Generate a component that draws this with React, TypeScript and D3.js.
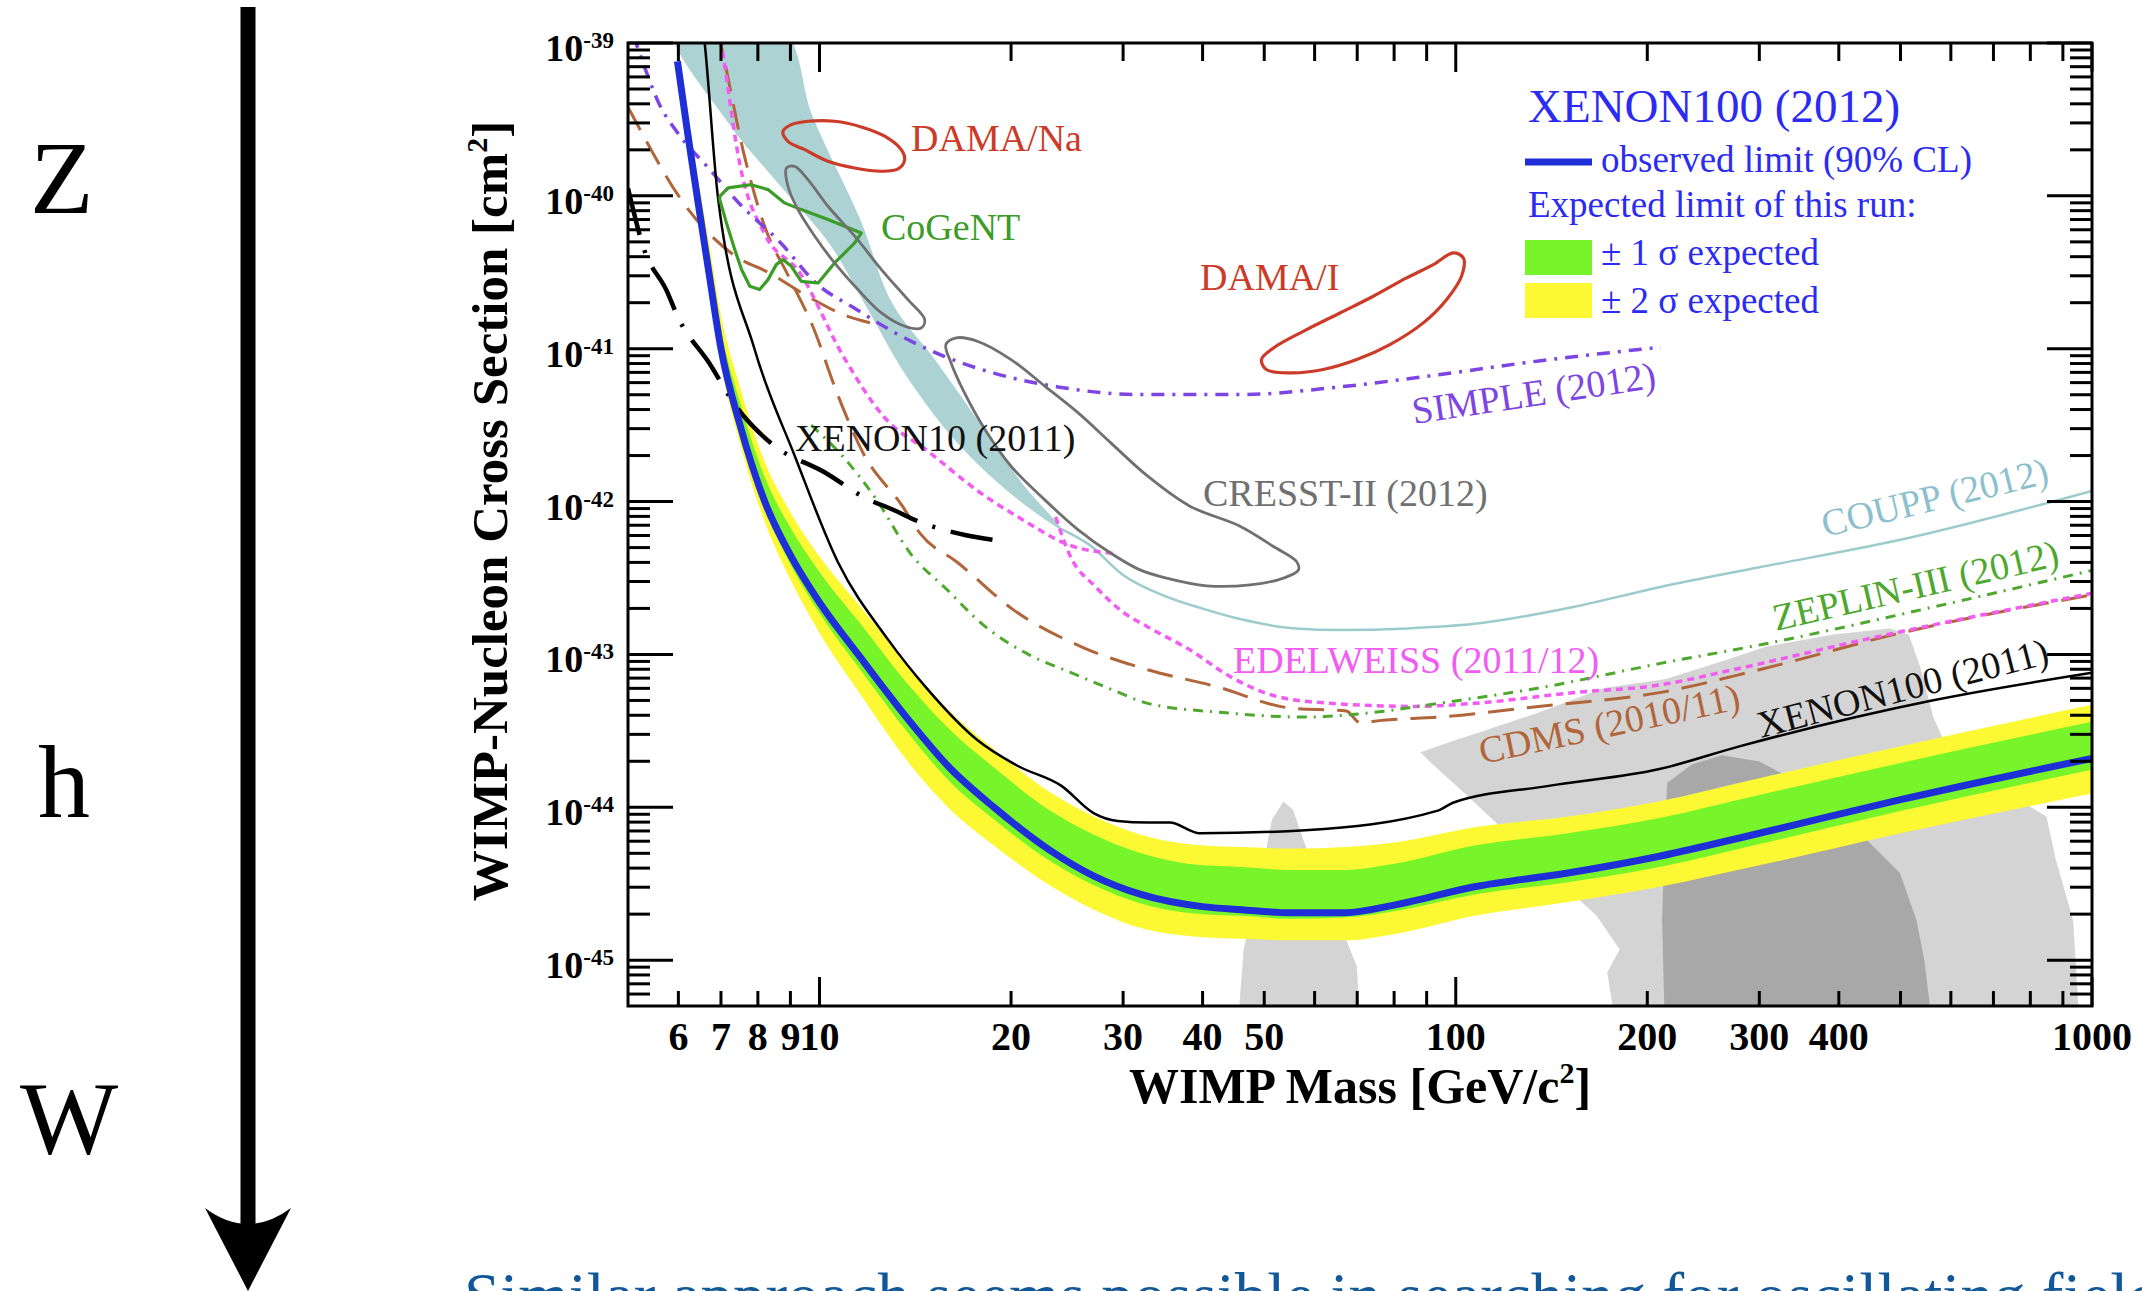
import React from "react";
import * as d3 from "d3";

// A point is [WIMP mass in GeV/c^2, log10 of the WIMP-nucleon cross section in cm^2]
type Pt = [number, number];

// ---------- axes ----------
const massDomain: [number, number] = [5, 1000];
const sigmaExpDomain: [number, number] = [-45.3, -39];
const massMajorTicks = [10, 100, 1000];
const massMinorTicks = [6, 7, 8, 9, 20, 30, 40, 50, 60, 70, 80, 90, 200, 300, 400, 500, 600, 700, 800, 900];
const massTickLabels = [6, 7, 8, 9, 10, 20, 30, 40, 50, 100, 200, 300, 400, 1000];
const sigmaDecades = [-45, -44, -43, -42, -41, -40, -39];

// ---------- XENON100 (2012) ----------
const xenon100Observed: Pt[] = [
  [5.98, -39.12], [6.2, -39.58], [6.42, -40.0], [6.7, -40.5], [7.0, -41.0], [7.5, -41.5], [8.2, -42.0],
  [9.0, -42.35], [10, -42.66], [11.5, -43.0], [14, -43.46], [16, -43.74], [18.8, -44.0],
  [23, -44.28], [27, -44.45], [32, -44.57], [40, -44.65], [46, -44.67], [55, -44.69],
  [67, -44.69], [80, -44.64], [107, -44.52], [150, -44.43], [209, -44.32], [300, -44.17],
  [500, -43.95], [1000, -43.68],
];
const expMass = [6.2, 6.42, 6.7, 7.0, 7.5, 8.2, 9.0, 10, 11.5, 14, 16, 18.8, 23, 27, 32, 40, 46, 55, 67, 80, 107, 150, 209, 300, 500, 1000];
const exp2sHigh = [-39.5, -39.85, -40.3, -40.78, -41.25, -41.74, -42.07, -42.36, -42.67, -43.1, -43.37, -43.62, -43.9, -44.06, -44.18, -44.25, -44.26, -44.27, -44.26, -44.23, -44.13, -44.06, -43.96, -43.81, -43.6, -43.33];
const exp1sHigh = [-39.54, -39.92, -40.4, -40.88, -41.35, -41.84, -42.17, -42.46, -42.78, -43.23, -43.49, -43.74, -44.02, -44.18, -44.3, -44.38, -44.39, -44.41, -44.41, -44.37, -44.25, -44.17, -44.07, -43.92, -43.71, -43.44];
const exp1sLow = [-39.61, -40.04, -40.55, -41.05, -41.55, -42.05, -42.41, -42.73, -43.08, -43.55, -43.83, -44.08, -44.35, -44.51, -44.63, -44.7, -44.71, -44.73, -44.72, -44.68, -44.57, -44.49, -44.39, -44.24, -44.025, -43.755];
const exp2sLow = [-39.64, -40.08, -40.59, -41.1, -41.62, -42.13, -42.51, -42.86, -43.24, -43.74, -44.01, -44.25, -44.51, -44.67, -44.79, -44.85, -44.86, -44.87, -44.87, -44.83, -44.71, -44.62, -44.52, -44.38, -44.17, -43.91];

// ---------- other experiments ----------
const xenon100_2011: Pt[] = [
  [6.5, -38.75], [6.6, -39.0], [6.92, -40.0], [7.9, -41.0], [9.14, -41.7], [10.7, -42.4],
  [12.8, -42.9], [14.8, -43.23], [17.7, -43.56], [20.5, -43.73], [24, -43.86], [27, -44.04],
  [29.4, -44.09], [32.8, -44.1], [35.5, -44.1], [39.6, -44.17], [58, -44.15], [94, -44.02],
  [99, -43.97], [140, -43.86], [209, -43.75], [280, -43.6], [563, -43.3], [1000, -43.12],
];
const xenon10_2011: Pt[] = [
  [5.0, -39.95], [5.3, -40.35], [5.75, -40.62], [6.0, -40.8], [6.7, -41.09], [7.4, -41.38],
  [8.4, -41.62], [10.2, -41.81], [11.85, -41.98], [13, -42.05], [14.3, -42.13], [17, -42.22], [18.7, -42.25],
];
const cdmsLowThreshold: Pt[] = [
  [5.0, -39.42], [5.06, -39.46], [6.17, -40.07], [7.41, -40.4], [8.3, -40.5], [9.6, -40.66], [11.1, -40.79], [12, -40.83],
];
const cdms: Pt[] = [
  [6.9, -38.9], [7.05, -39.07], [7.6, -39.72], [8.2, -40.2], [8.95, -40.53], [9.75, -40.85],
  [10.7, -41.31], [11.7, -41.68], [13.5, -42.03], [14.4, -42.21], [16.5, -42.4], [20.2, -42.71],
  [25.8, -42.95], [32.8, -43.1], [42, -43.21], [54.8, -43.35], [67.3, -43.37], [70.7, -43.445],
  [76.9, -43.43], [94, -43.41], [135, -43.34], [209, -43.25], [300, -43.1], [500, -42.86], [1000, -42.61],
];
const edelweissLowMass: Pt[] = [
  [6.95, -38.9], [7.05, -39.07], [7.5, -39.8], [8.2, -40.25], [9.3, -40.5], [10.9, -41.05],
  [12.65, -41.45], [14.8, -41.67], [18, -41.95], [20.5, -42.1], [24.9, -42.29], [29.1, -42.34],
];
const edelweiss: Pt[] = [
  [23.5, -42.1], [24.8, -42.36], [27.2, -42.56], [29.7, -42.71], [32.8, -42.82], [38.2, -42.97],
  [44.4, -43.15], [52.9, -43.28], [63.7, -43.32], [86, -43.34], [107, -43.32], [153, -43.25],
  [209, -43.2], [273, -43.1], [442, -42.9], [1000, -42.6],
];
const zeplin3: Pt[] = [
  [9.7, -41.5], [10.8, -41.69], [12.3, -41.99], [13.9, -42.34], [15.9, -42.58], [18, -42.8],
  [21.3, -43.0], [24.9, -43.12], [28.8, -43.23], [32.8, -43.32], [43, -43.38], [58, -43.41],
  [74, -43.38], [94, -43.32], [135, -43.22], [209, -43.06], [307, -42.93], [563, -42.69], [1000, -42.45],
];
const coupp: Pt[] = [
  [24, -42.18], [26.5, -42.28], [30, -42.48], [35, -42.62], [40, -42.7], [46, -42.77], [56, -42.83],
  [66, -42.84], [84, -42.83], [107, -42.8], [153, -42.69], [209, -42.56], [300, -42.43], [500, -42.25], [1000, -41.93],
];
const couppBand: Pt[] = [
  [5.9, -38.9], [7.18, -39.52], [8.7, -39.94], [10.35, -40.31], [11.9, -40.74], [13.7, -41.18],
  [16.5, -41.62], [20, -41.95], [24, -42.18], [21, -41.9], [18.8, -41.62], [15.3, -41.09],
  [13.0, -40.7], [11.6, -40.16], [9.75, -39.48], [8.7, -38.9],
];
const simple2012: Pt[] = [
  [5.1, -38.95], [5.3, -39.15], [5.6, -39.4], [5.99, -39.59], [6.73, -39.83], [7.48, -40.05],
  [8.7, -40.31], [9.87, -40.57], [11.4, -40.74], [13.2, -40.9], [15.7, -41.05], [18.8, -41.16],
  [23.7, -41.25], [32, -41.3], [45.8, -41.3], [65.7, -41.25], [94, -41.17], [135, -41.08], [210, -40.99],
];

// ---------- signal regions ----------
const damaNa: Pt[] = [
  [8.76, -39.578], [9.03, -39.534], [9.59, -39.512], [10.56, -39.512], [11.63, -39.549], [12.66, -39.61],
  [13.44, -39.698], [13.61, -39.763], [13.29, -39.824], [12.51, -39.839], [11.36, -39.818], [10.31, -39.774],
  [9.48, -39.698], [8.92, -39.643],
];
const damaI: Pt[] = [
  [49.5, -41.071], [51.7, -40.995], [58.3, -40.875], [65.8, -40.766], [74.2, -40.657], [83.7, -40.537],
  [92.2, -40.45], [99.1, -40.373], [102.8, -40.406], [102.1, -40.526], [96.7, -40.679], [88.9, -40.831],
  [78.8, -40.973], [69.9, -41.071], [61.9, -41.136], [54.9, -41.158], [50.4, -41.136],
];
const cogent: Pt[] = [
  [6.97, -40.003], [7.18, -39.948], [7.81, -39.927], [8.3, -39.959], [8.81, -40.046], [9.36, -40.09],
  [10.31, -40.155], [11.63, -40.243], [11.36, -40.308], [10.56, -40.439], [9.95, -40.57], [9.36, -40.559],
  [9.03, -40.461], [8.76, -40.417], [8.55, -40.45], [8.3, -40.548], [8.05, -40.613], [7.77, -40.591],
  [7.54, -40.482], [7.36, -40.352], [7.14, -40.177], [6.97, -40.025],
];
const cresstM1: Pt[] = [
  [8.87, -39.818], [9.14, -39.807], [9.59, -39.894], [10.31, -40.068], [11.36, -40.264], [12.51, -40.482],
  [13.77, -40.679], [14.63, -40.809], [14.45, -40.864], [13.61, -40.853], [12.51, -40.766], [11.49, -40.613],
  [10.56, -40.439], [9.83, -40.264], [9.25, -40.09], [8.92, -39.937],
];
const cresstM2: Pt[] = [
  [15.8, -40.973], [16.4, -40.929], [17.7, -40.951], [20.0, -41.071], [22.6, -41.245], [25.5, -41.42],
  [28.7, -41.616], [32.8, -41.834], [38.2, -42.03], [45.8, -42.161], [51.7, -42.294], [56.2, -42.392],
  [56.6, -42.447], [53.6, -42.501], [47.5, -42.545], [40.6, -42.551], [35.1, -42.501], [31.9, -42.447],
  [28.7, -42.338], [25.5, -42.185], [22.6, -41.989], [20.0, -41.769], [18.2, -41.529], [16.9, -41.289], [16.1, -41.093],
];
const cmssmSpike: Pt[] = [
  [45.5, -45.4], [46.4, -44.932], [49.2, -44.496], [51.4, -44.082], [53.6, -43.962], [55.5, -44.016],
  [57.6, -44.213], [61.2, -44.496], [66.6, -44.823], [69.9, -45.041], [70.7, -45.4],
];
const cmssmOuter: Pt[] = [
  [88, -43.64], [100, -43.56], [107, -43.52], [135, -43.38], [171, -43.22], [214, -43.16], [260, -43.05],
  [307, -42.95], [392, -42.87], [481, -42.83], [515, -42.87], [537, -43.08], [563, -43.41], [593, -43.62],
  [700, -43.85], [848, -44.06], [877, -44.34], [934, -44.74], [955, -45.4], [178, -45.4], [173, -45.08],
  [181, -44.93], [166.5, -44.71], [130, -44.3], [104, -43.92], [92, -43.72],
];
const cmssmInner: Pt[] = [
  [213, -45.4], [211, -44.74], [213, -44.17], [215, -43.84], [235, -43.72], [262, -43.66], [300, -43.7],
  [347, -43.84], [442, -44.21], [499, -44.43], [530, -44.74], [545, -45.0], [560, -45.4],
];

// ---------- geometry ----------
const W = 2142;
const H = 1291;
const L = 628, R = 2092, T = 43, B = 1006;

const X = d3.scaleLog().domain(massDomain).range([L, R]);
const Y = d3.scaleLog().domain([10 ** sigmaExpDomain[0], 10 ** sigmaExpDomain[1]]).range([B, T]);
const px = (p: Pt) => X(p[0]);
const py = (p: Pt) => Y(10 ** p[1]);

const smooth = d3.line<Pt>().x(px).y(py).curve(d3.curveMonotoneX);
const smoothClosed = d3.line<Pt>().x(px).y(py).curve(d3.curveCatmullRomClosed.alpha(0.5));
const poly = d3.line<Pt>().x(px).y(py).curve(d3.curveLinearClosed);

const bandPath = (lo: number[], hi: number[]) =>
  d3
    .area<number>()
    .x((m) => X(m))
    .y0((_, i) => Y(10 ** lo[i]))
    .y1((_, i) => Y(10 ** hi[i]))
    .curve(d3.curveMonotoneX)(expMass) || "";

const minorSigma: number[] = [];
for (let e = -46; e <= -40; e++) {
  for (let k = 2; k <= 9; k++) {
    const v = k * 10 ** e;
    const ex = Math.log10(v);
    if (ex > sigmaExpDomain[0] && ex < sigmaExpDomain[1]) minorSigma.push(v);
  }
}

const serif = "'Liberation Serif', 'Times New Roman', serif";

const C = {
  blue: "#1f2fd8",
  green: "#78f42a",
  yellow: "#fcf834",
  teal: "#acd2d4",
  couppLine: "#9ccbce",
  lightGrey: "#d4d4d4",
  darkGrey: "#a8a8a8",
  brown: "#b0653a",
  magenta: "#f25cf2",
  zeplin: "#4ea82e",
  purple: "#7d45e2",
  red: "#cc3a28",
  cogent: "#3c9c28",
  cresst: "#707070",
  legend: "#2b2bf2",
};

export default function App() {
  const tickW = 3;
  return (
    <div style={{ position: "absolute", left: 0, top: 0, width: W, height: H, overflow: "hidden", background: "#fff" }}>
      <svg width={W} height={H} viewBox={`0 0 ${W} ${H}`} style={{ display: "block" }}>
        <defs>
          <clipPath id="plotArea">
            <rect x={L} y={T} width={R - L} height={B - T} />
          </clipPath>
        </defs>

        {/* left-hand annotation column */}
        <g fontFamily={serif} fontSize={104} fill="#000">
          <text x={30} y={213}>Z</text>
          <text x={38} y={817}>h</text>
          <text x={20} y={1153}>W</text>
        </g>
        <line x1={248} y1={7} x2={248} y2={1236} stroke="#000" strokeWidth={15} />
        <path d="M205,1208 L248,1291 L291,1208 Q248,1240 205,1208 Z" fill="#000" />

        {/* plot contents */}
        <g clipPath="url(#plotArea)">
          <path d={poly(cmssmOuter) || ""} fill={C.lightGrey} />
          <path d={poly(cmssmSpike) || ""} fill={C.lightGrey} />
          <path d={poly(cmssmInner) || ""} fill={C.darkGrey} />
          <path d={smoothClosed(couppBand) || ""} fill={C.teal} />

          <path d={bandPath(exp2sLow, exp2sHigh)} fill={C.yellow} />
          <path d={bandPath(exp1sLow, exp1sHigh)} fill={C.green} />

          <path d={smooth(coupp) || ""} fill="none" stroke={C.couppLine} strokeWidth={2.5} />
          <path d={smooth(cdmsLowThreshold) || ""} fill="none" stroke={C.brown} strokeWidth={3} strokeDasharray="26 13" />
          <path d={smooth(cdms) || ""} fill="none" stroke={C.brown} strokeWidth={3} strokeDasharray="26 13" />
          <path d={smooth(edelweissLowMass) || ""} fill="none" stroke={C.magenta} strokeWidth={3.5} strokeDasharray="7 5" />
          <path d={smooth(edelweiss) || ""} fill="none" stroke={C.magenta} strokeWidth={3.5} strokeDasharray="7 5" />
          <path d={smooth(zeplin3) || ""} fill="none" stroke={C.zeplin} strokeWidth={3} strokeDasharray="10 7 2 7" />
          <path d={smooth(simple2012) || ""} fill="none" stroke={C.purple} strokeWidth={3.5} strokeDasharray="13 8 3 8" />
          <path d={smooth(xenon10_2011) || ""} fill="none" stroke="#000" strokeWidth={4.5} strokeDasharray="48 16 3 16" />
          <path d={smooth(xenon100_2011) || ""} fill="none" stroke="#000" strokeWidth={2.5} />

          <path d={smoothClosed(damaNa) || ""} fill="none" stroke={C.red} strokeWidth={3.2} />
          <path d={smoothClosed(damaI) || ""} fill="none" stroke={C.red} strokeWidth={3.2} />
          <path d={poly(cogent) || ""} fill="none" stroke={C.cogent} strokeWidth={3.2} strokeLinejoin="round" />
          <path d={smoothClosed(cresstM1) || ""} fill="none" stroke={C.cresst} strokeWidth={2.8} />
          <path d={smoothClosed(cresstM2) || ""} fill="none" stroke={C.cresst} strokeWidth={2.8} />

          <path d={smooth(xenon100Observed) || ""} fill="none" stroke={C.blue} strokeWidth={7} />
        </g>

        {/* curve labels */}
        <g fontFamily={serif} fontSize={38}>
          <text x={911} y={151} fill={C.red}>DAMA/Na</text>
          <text x={881} y={240} fill={C.cogent}>CoGeNT</text>
          <text x={1200} y={290} fill={C.red}>DAMA/I</text>
          <text x={795} y={451} fill="#111">XENON10 (2011)</text>
          <text x={1203} y={506} fill={C.cresst}>CRESST-II (2012)</text>
          <text x={1233} y={673} fill={C.magenta}>EDELWEISS (2011/12)</text>
          <text transform="translate(1414,424) rotate(-8.5)" fill={C.purple}>SIMPLE (2012)</text>
          <text transform="translate(1825,537) rotate(-13.5)" fill="#8cc0cc">COUPP (2012)</text>
          <text transform="translate(1776,631) rotate(-13)" fill={C.zeplin}>ZEPLIN-III (2012)</text>
          <text transform="translate(1482,764) rotate(-12)" fill={C.brown}>CDMS (2010/11)</text>
          <text transform="translate(1761,738) rotate(-14.5)" fill="#111">XENON100 (2011)</text>
        </g>

        {/* legend */}
        <g fontFamily={serif} fill={C.legend}>
          <text x={1528} y={122} fontSize={47}>XENON100 (2012)</text>
          <line x1={1525} x2={1592} y1={162} y2={162} stroke={C.blue} strokeWidth={7} />
          <text x={1601} y={172} fontSize={37}>observed limit (90% CL)</text>
          <text x={1528} y={217} fontSize={37}>Expected limit of this run:</text>
          <rect x={1525} y={240} width={67} height={35} fill={C.green} />
          <text x={1601} y={265} fontSize={37}>± 1 σ expected</text>
          <rect x={1525} y={283} width={67} height={35} fill={C.yellow} />
          <text x={1601} y={313} fontSize={37}>± 2 σ expected</text>
        </g>

        {/* frame and ticks */}
        <g stroke="#000" strokeWidth={tickW}>
          {massMajorTicks.map((m) => (
            <g key={`M${m}`}>
              <line x1={X(m)} x2={X(m)} y1={B} y2={B - 29} />
              <line x1={X(m)} x2={X(m)} y1={T} y2={T + 29} />
            </g>
          ))}
          {massMinorTicks.map((m) => (
            <g key={`m${m}`}>
              <line x1={X(m)} x2={X(m)} y1={B} y2={B - 15} />
              <line x1={X(m)} x2={X(m)} y1={T} y2={T + 18} />
            </g>
          ))}
          {sigmaDecades.map((e) => (
            <g key={`S${e}`}>
              <line x1={L} x2={L + 45} y1={Y(10 ** e)} y2={Y(10 ** e)} />
              <line x1={R} x2={R - 45} y1={Y(10 ** e)} y2={Y(10 ** e)} />
            </g>
          ))}
          {minorSigma.map((v, i) => (
            <g key={`s${i}`}>
              <line x1={L} x2={L + 22} y1={Y(v)} y2={Y(v)} />
              <line x1={R} x2={R - 22} y1={Y(v)} y2={Y(v)} />
            </g>
          ))}
          <rect x={L} y={T} width={R - L} height={B - T} fill="none" />
        </g>

        {/* tick labels */}
        <g fontFamily={serif} fontWeight="bold" fill="#000">
          {massTickLabels.map((m) => (
            <text key={`l${m}`} x={X(m)} y={1050} fontSize={40} textAnchor="middle">
              {m}
            </text>
          ))}
          {sigmaDecades.map((e) => (
            <text key={`e${e}`} x={614} y={Y(10 ** e) + 18} fontSize={38} textAnchor="end">
              10
              <tspan dy={-13} fontSize={23}>
                {e}
              </tspan>
            </text>
          ))}
        </g>

        {/* axis titles */}
        <g fontFamily={serif} fontWeight="bold" fill="#000">
          <text x={1360} y={1103} textAnchor="middle" fontSize={50}>
            WIMP Mass [GeV/c<tspan dy={-20} fontSize={30}>2</tspan>
            <tspan dy={20}>]</tspan>
          </text>
          <text transform="translate(507,511) rotate(-90)" textAnchor="middle" fontSize={51}>
            WIMP-Nucleon Cross Section [cm<tspan dy={-20} fontSize={30}>2</tspan>
            <tspan dy={20}>]</tspan>
          </text>
        </g>

        {/* caption running off the bottom edge */}
        <text x={464} y={1318} fontFamily={serif} fontSize={65} fill="#11589a">
          Similar approach seems possible in searching for oscillating field
        </text>
      </svg>
    </div>
  );
}
